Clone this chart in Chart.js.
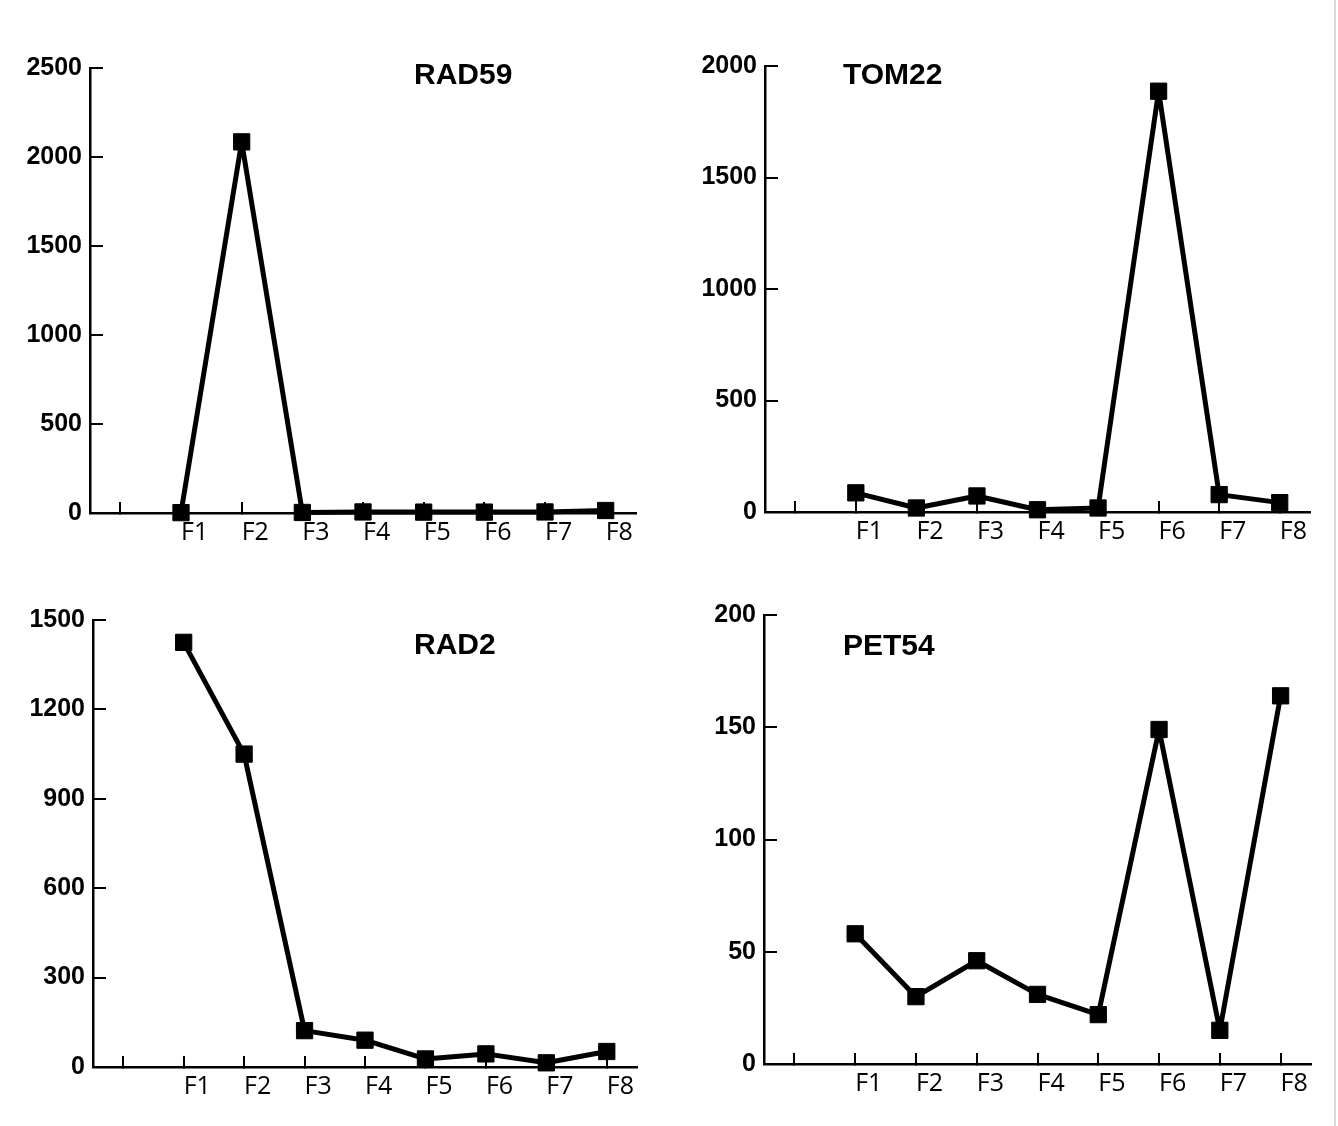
<!DOCTYPE html>
<html>
<head>
<meta charset="utf-8">
<script src="https://cdn.jsdelivr.net/npm/chart.js@4.4.0/dist/chart.umd.min.js"></script>
<style>
html,body{margin:0;padding:0;background:#fff;}
#wrap{position:relative;width:1338px;height:1126px;overflow:hidden;background:#fff;}
.panel{position:absolute;width:669px;height:563px;}
.panel canvas{display:block;}
#edge{position:absolute;left:1334px;top:0;width:2px;height:1126px;background:#d9d9d9;}
</style>
</head>
<body>
<div id="wrap">
  <div class="panel" style="left:0;top:0"><canvas id="c1" width="669" height="563"></canvas></div>
  <div class="panel" style="left:669px;top:0"><canvas id="c2" width="669" height="563"></canvas></div>
  <div class="panel" style="left:0;top:563px"><canvas id="c3" width="669" height="563"></canvas></div>
  <div class="panel" style="left:669px;top:563px"><canvas id="c4" width="669" height="563"></canvas></div>
  <div id="edge"></div>
</div>
<script>
// ---- data ----
const categories = ['F1', 'F2', 'F3', 'F4', 'F5', 'F6', 'F7', 'F8'];
const rad59 = [2, 2085, 3, 6, 5, 5, 6, 14];
const tom22 = [86, 18, 72, 10, 18, 1887, 78, 42];
const rad2 = [1425, 1050, 122, 90, 27, 44, 14, 52];
const pet54 = [58, 30, 46, 31, 22, 149, 15, 164];
const titles = ['RAD59', 'TOM22', 'RAD2', 'PET54'];
const yMax = [2500, 2000, 1500, 200];
const yStep = [500, 500, 300, 50];

// ---- layout per panel (chart area inside each 669x563 canvas) ----
const W = 669, H = 563;
const panels = [
  {id: 'c1', title: titles[0], values: rad59, max: yMax[0], step: yStep[0],
   area: {left: 90, top: 68, right: 636, bottom: 513}, tdx: 324, tdy: 8},
  {id: 'c2', title: titles[1], values: tom22, max: yMax[1], step: yStep[1],
   area: {left: 96, top: 66, right: 641, bottom: 512}, tdx: 78, tdy: 10},
  {id: 'c3', title: titles[2], values: rad2, max: yMax[2], step: yStep[2],
   area: {left: 93, top: 57, right: 637, bottom: 504}, tdx: 321, tdy: 26},
  {id: 'c4', title: titles[3], values: pet54, max: yMax[3], step: yStep[3],
   area: {left: 95, top: 52, right: 642, bottom: 501}, tdx: 79, tdy: 32}
];

const panelTitle = {
  id: 'panelTitle',
  afterDraw(chart, args, opts) {
    const {ctx, chartArea} = chart;
    ctx.save();
    ctx.font = 'bold 30px "Liberation Sans", Arial, sans-serif';
    ctx.fillStyle = '#000';
    ctx.textAlign = 'left';
    ctx.textBaseline = 'middle';
    ctx.fillText(opts.text, chartArea.left + opts.dx, chartArea.top + opts.dy);
    ctx.restore();
  }
};

panels.forEach(p => {
  const a = p.area;
  new Chart(document.getElementById(p.id), {
    type: 'line',
    data: {
      labels: [''].concat(categories),
      datasets: [{
        data: [null].concat(p.values),
        borderColor: '#000',
        borderWidth: 5,
        borderJoinStyle: 'round',
        tension: 0,
        fill: false,
        pointStyle: 'rect',
        pointRadius: 11.5,
        pointBackgroundColor: '#000',
        pointBorderColor: '#000',
        pointBorderWidth: 1,
        clip: false
      }]
    },
    options: {
      responsive: false,
      animation: false,
      devicePixelRatio: 1,
      layout: {padding: {left: 0, top: a.top, right: W - a.right, bottom: 0}},
      plugins: {
        legend: {display: false},
        tooltip: {enabled: false},
        title: {display: false},
        panelTitle: {text: p.title, dx: p.tdx, dy: p.tdy}
      },
      scales: {
        x: {
          type: 'category',
          offset: true,
          grid: {display: true, offset: false, drawOnChartArea: false, drawTicks: true,
                 tickLength: -11, lineWidth: 2, color: '#000'},
          border: {display: true, width: 2.5, color: '#000'},
          ticks: {align: 'start', padding: 16, autoSkip: false, maxRotation: 0, minRotation: 0,
                  color: '#000', font: {family: '"Open Sans", sans-serif', size: 25}},
          afterFit(s) { s.height = H - a.bottom; }
        },
        y: {
          min: 0,
          max: p.max,
          grid: {display: true, drawOnChartArea: false, drawTicks: true,
                 tickLength: -13, lineWidth: 2, color: '#000'},
          border: {display: true, width: 2.5, color: '#000'},
          ticks: {stepSize: p.step, padding: 21, color: '#000',
                  font: {family: '"Liberation Sans", Arial, sans-serif', weight: 'bold', size: 25},
                  callback: v => String(v)},
          afterFit(s) { s.width = a.left; }
        }
      }
    },
    plugins: [panelTitle]
  });
});
</script>
</body>
</html>
